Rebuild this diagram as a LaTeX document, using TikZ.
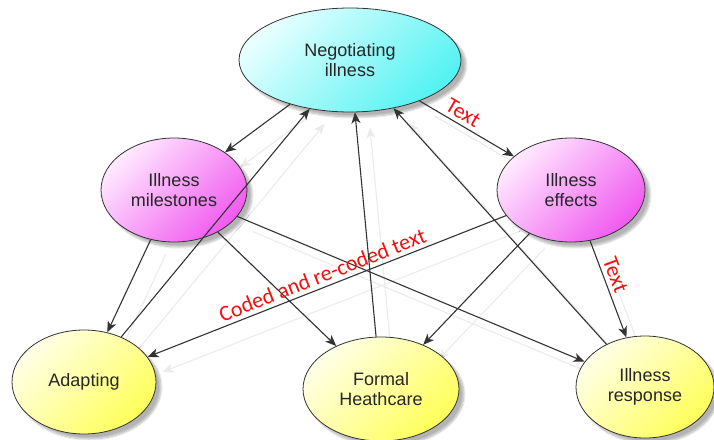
\documentclass[tikz,border=0pt]{standalone}
\usepackage{fontspec}
\setmainfont{Liberation Sans}
\newfontfamily\labelfont{Carlito}
\usetikzlibrary{arrows.meta,shapes.geometric,shadows.blur}

\definecolor{cyanLo}{HTML}{E8FFFF}
\definecolor{cyanHi}{HTML}{55F2F2}
\definecolor{magLo}{HTML}{FFEAFF}
\definecolor{magHi}{HTML}{F05AF0}
\definecolor{yelLo}{HTML}{FFFFE8}
\definecolor{yelHi}{HTML}{FFFF5A}
\definecolor{lblred}{HTML}{F01010}

\pgfdeclarelayer{behind}
\pgfsetlayers{behind,main}

\begin{document}
\begin{tikzpicture}[x=1pt,y=-1pt,
  concept/.style={ellipse, draw=black!80, line width=0.8pt, inner sep=0pt,
    align=center, font=\fontsize{18}{20}\selectfont, text=black!85,
    blur shadow={shadow xshift=5pt, shadow yshift=-5pt,
      shadow opacity=30, shadow blur steps=8}},
  cyanfill/.style={top color=cyanLo, bottom color=cyanHi, shading angle=45},
  magfill/.style={top color=magLo, bottom color=magHi, shading angle=45},
  yelfill/.style={top color=yelLo, bottom color=yelHi, shading angle=45},
  tipshape/.tip={Stealth[length=11pt,width=9pt,inset=3pt]},
  conn/.style={draw=black!80, line width=1.1pt, -{tipshape}},
  connrev/.style={draw=black!80, line width=1.1pt, {tipshape}-},
  ghost/.style={draw=black!8, line width=1.1pt, -{tipshape},
    transform canvas={shift={(15pt,-15pt)}}},
  ghostrev/.style={draw=black!8, line width=1.1pt, {tipshape}-,
    transform canvas={shift={(15pt,-15pt)}}},
  lbl/.style={text=lblred, font=\labelfont\fontsize{22}{25}\selectfont, inner sep=4pt}
]
\useasboundingbox (0,0) rectangle (714,439);

% concepts
\node[concept, cyanfill, minimum width=222pt, minimum height=104pt] (N) at (350,60) {Negotiating\\illness};
\node[concept, magfill, minimum width=146pt, minimum height=104pt] (M) at (174,190) {Illness\\milestones};
\node[concept, magfill, minimum width=148pt, minimum height=104pt] (E) at (571,190) {Illness\\effects};
\node[concept, yelfill, minimum width=144pt, minimum height=104pt] (A) at (84,382) {Adapting};
\node[concept, yelfill, minimum width=156pt, minimum height=104pt] (F) at (381,389) {Formal\\Heathcare};
\node[concept, yelfill, minimum width=138pt, minimum height=102pt] (R) at (645,387) {Illness\\response};

% faint offset copies of the links, kept under the concepts
\begin{pgfonlayer}{behind}
\draw[ghost] (N) -- (M);
\draw[ghost] (N) -- (E);
\draw[ghost] (M) -- (A);
\draw[ghost] (M) -- (F);
\draw[ghost] (M) -- (R);
\draw[ghostrev] (A) -- (E);
\draw[ghost] (E) -- (F);
\draw[ghost] (E) -- (R);
\draw[ghost] (A) -- (N);
\draw[ghost] (F) -- (N);
\draw[ghost] (R) -- (N);
\end{pgfonlayer}

% links
\draw[conn] (N) -- (M);
\draw[conn] (N) -- (E) node[lbl, sloped, above, pos=0.4] {Text};
\draw[conn] (M) -- (A);
\draw[conn] (M) -- (F);
\draw[conn] (M) -- (R);
\draw[connrev] (A) -- (E) node[lbl, sloped, above, pos=0.5] {Coded and re-coded text};
\draw[conn] (E) -- (F);
\draw[conn] (E) -- (R) node[lbl, sloped, above, pos=0.4] {Text};
\draw[conn] (A) -- (N);
\draw[conn] (F) -- (N);
\draw[conn] (R) -- (N);
\end{tikzpicture}
\end{document}
